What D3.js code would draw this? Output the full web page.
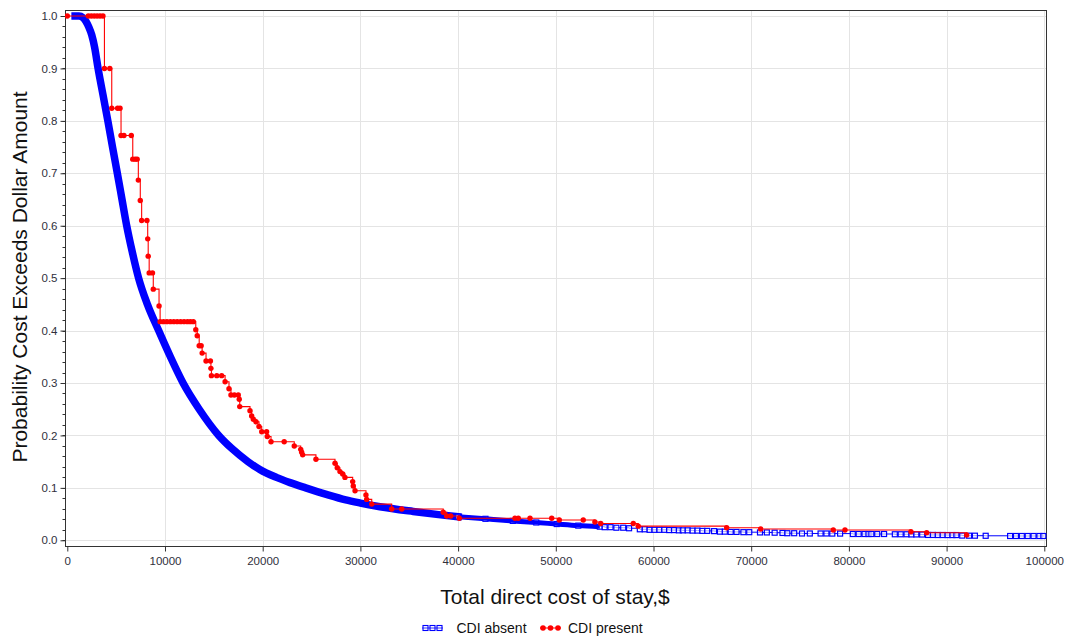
<!DOCTYPE html>
<html>
<head>
<meta charset="utf-8">
<script src="https://cdn.jsdelivr.net/npm/d3@7"></script>
<style>
  html, body { margin: 0; padding: 0; background: #fff; }
  svg { display: block; font-family: "Liberation Sans", Arial, sans-serif; }
</style>
</head>
<body>
<svg id="chart" width="1067" height="640"></svg>
<script>
// ---- Survival of total direct cost: CDI absent vs CDI present ----

// CDI absent: (cost, probability) along the dense curve
const absentCost = [800, 1200, 1600, 1900, 2200, 2500, 2800, 3150, 3650, 4150, 4630, 5120, 5600, 6080,
  6650, 7300, 8200, 9350, 10550, 11850, 13500, 15500, 16850, 18500, 19700, 21400, 22800, 24400, 26600,
  28500, 30000, 32000, 35400, 38000, 40000, 42800, 45600, 48000, 50100, 52300, 54500];
const absentProb = [1.0, 1.0, 0.997, 0.99, 0.979, 0.964, 0.94, 0.9, 0.85, 0.8, 0.75, 0.7, 0.65, 0.6,
  0.55, 0.5, 0.45, 0.4, 0.35, 0.3, 0.25, 0.2, 0.175, 0.15, 0.135, 0.12, 0.11, 0.1, 0.087,
  0.077, 0.071, 0.064, 0.055, 0.049, 0.045, 0.041, 0.037, 0.034, 0.031, 0.028, 0.026];

// CDI absent: sparse observations in the upper tail
const absentTailCost = [55000, 55600, 56200, 56900, 57500, 58600, 59100, 59600, 60100, 60600, 61100,
  61600, 62100, 62600, 63000, 63500, 64000, 64500, 65000, 65500, 66200, 66800, 67300, 67900, 68500,
  69200, 69800, 70900, 71600, 72400, 73200, 73700, 74400, 75200, 76000, 77100, 77700, 78300, 79100,
  80400, 81000, 81600, 82000, 82300, 82900, 83600, 84700, 85300, 85900, 86400, 86900, 87500, 88100,
  88600, 89100, 89600, 90100, 90600, 91000, 91600, 92300, 92900, 94000, 96500, 97100, 97700, 98300,
  98900, 99500, 99900];
const absentTailProb = [0.025, 0.025, 0.024, 0.024, 0.023, 0.021, 0.021, 0.02, 0.02, 0.02, 0.02,
  0.0195, 0.0195, 0.019, 0.019, 0.019, 0.0185, 0.0185, 0.018, 0.018, 0.0175, 0.0165, 0.0165, 0.016, 0.016,
  0.0155, 0.0155, 0.015, 0.015, 0.0145, 0.014, 0.0135, 0.0135, 0.013, 0.013, 0.013, 0.013, 0.0128, 0.0128,
  0.012, 0.012, 0.012, 0.012, 0.012, 0.012, 0.012, 0.0115, 0.0115, 0.0115, 0.0112, 0.0112, 0.011, 0.0102,
  0.0102, 0.0101, 0.0101, 0.01, 0.01, 0.01, 0.009, 0.0088, 0.0088, 0.0086, 0.0082, 0.0082, 0.0082, 0.0082,
  0.0082, 0.0082, 0.0082];

// CDI present: step estimate (cost, probability)
const presentCost = [0, 2150, 2450, 2750, 3050, 3350, 3650, 3800, 4350, 4550, 5150, 5400, 5500, 5800, 6550,
  6700, 6950, 7150, 7270, 7470, 7610, 8150, 8230, 8280, 8380, 8720, 8800, 9390,
  9500, 9850, 10200, 10550, 10900, 11250, 11600, 11950, 12300, 12600, 12900,
  13150, 13300, 13500, 13700, 13800, 14200, 14650, 14700, 14750, 15300, 15800, 16150, 16550,
  16750, 17100, 17500, 17600, 17650, 18700, 18870, 19040, 19310, 19620, 19900, 20400, 20470,
  20850, 22200, 23230, 23890, 23990, 24090, 25450, 27400, 27630, 27910, 28190, 28420, 29210, 29270,
  29450, 30570, 30640, 31160, 33200, 34230, 38480, 38830, 39240, 40120, 45820, 46160, 47360, 49580,
  50360, 52810, 54000, 54600, 57930, 58440, 67490, 70970, 78400, 79600, 86350, 87960, 92050];
const presentProb = [1.0, 1.0, 1.0, 1.0, 1.0, 1.0, 1.0, 0.9, 0.9, 0.824, 0.824, 0.824, 0.772, 0.772, 0.772,
  0.727, 0.727, 0.727, 0.687, 0.648, 0.61, 0.61, 0.575, 0.542, 0.51, 0.51, 0.479, 0.447,
  0.417, 0.417, 0.417, 0.417, 0.417, 0.417, 0.417, 0.417, 0.417, 0.417, 0.417,
  0.4015, 0.39, 0.371, 0.371, 0.357, 0.342, 0.342, 0.328, 0.314, 0.314, 0.314, 0.3025, 0.289,
  0.277, 0.277, 0.277, 0.269, 0.255, 0.247, 0.237, 0.231, 0.226, 0.217, 0.207, 0.207, 0.198,
  0.188, 0.188, 0.18, 0.1735, 0.168, 0.163, 0.1545, 0.147, 0.1385, 0.131, 0.1265, 0.12, 0.112, 0.1036,
  0.0946, 0.0864, 0.078, 0.069, 0.0597, 0.0597, 0.0534, 0.0463, 0.0463, 0.042, 0.042, 0.042, 0.042, 0.042,
  0.0387, 0.0387, 0.035, 0.032, 0.032, 0.027, 0.024, 0.0216, 0.0196, 0.0196, 0.0164, 0.0145, 0.010];

const xTickValues = [0, 10000, 20000, 30000, 40000, 50000, 60000, 70000, 80000, 90000, 100000];
const yTickValues = [0, 0.1, 0.2, 0.3, 0.4, 0.5, 0.6, 0.7, 0.8, 0.9, 1.0];
const yMinorTickValues = d3.range(0, 1.0001, 0.02);

const seriesNames = ["CDI absent", "CDI present"];
const xTitle = "Total direct cost of stay,$";
const yTitle = "Probability Cost Exceeds Dollar Amount";

// ---- layout ----
const frame = { left: 65, top: 10, right: 1047, bottom: 546 };
const blue = "#0000ff", red = "#ff0000";

const svg = d3.select("#chart");
const x = d3.scaleLinear().domain([0, 100000]).range([67.3, 1044.3]);
const y = d3.scaleLinear().domain([0, 1]).range([540.3, 16]);

svg.append("rect").attr("width", 1067).attr("height", 640).attr("fill", "#fff");

// grid
const grid = svg.append("g").attr("stroke", "#e4e4e4").attr("stroke-width", 1);
grid.selectAll("line.v").data(xTickValues.slice(1)).join("line")
  .attr("x1", d => Math.round(x(d)) + 0.5).attr("x2", d => Math.round(x(d)) + 0.5)
  .attr("y1", frame.top).attr("y2", frame.bottom);
grid.selectAll("line.h").data(yTickValues).join("line")
  .attr("y1", d => Math.round(y(d)) + 0.5).attr("y2", d => Math.round(y(d)) + 0.5)
  .attr("x1", frame.left).attr("x2", frame.right);

// frame
svg.append("rect")
  .attr("x", frame.left + 0.5).attr("y", frame.top + 0.5)
  .attr("width", frame.right - frame.left - 1).attr("height", frame.bottom - frame.top)
  .attr("fill", "none").attr("stroke", "#333").attr("stroke-width", 1);

// axes
const tickColor = "#30303c";
const xAxis = d3.axisBottom(x).tickValues(xTickValues).tickFormat(d3.format("d")).tickSize(5).tickSizeOuter(0);
const gx = svg.append("g").attr("transform", `translate(0,${frame.bottom + 0.5})`).call(xAxis);
gx.select(".domain").attr("stroke", "#333").attr("d", `M${frame.left},0H${frame.right}`);
gx.selectAll(".tick line").attr("stroke", "#333");
gx.selectAll(".tick text").attr("fill", tickColor).attr("font-size", "11.5px")
  .attr("font-family", "Liberation Sans, Arial, sans-serif").attr("dy", "1.0em").attr("y", 7);

const yAxis = d3.axisLeft(y).tickValues(yTickValues).tickFormat(d3.format(".1f")).tickSize(5).tickSizeOuter(0);
const gy = svg.append("g").attr("transform", `translate(${frame.left + 0.5},0)`).call(yAxis);
gy.select(".domain").attr("stroke", "#333").attr("d", `M0,${frame.top}V${frame.bottom}`);
gy.selectAll(".tick line").attr("stroke", "#333");
gy.selectAll(".tick text").attr("fill", tickColor).attr("font-size", "11.5px")
  .attr("font-family", "Liberation Sans, Arial, sans-serif").attr("x", -8);
gy.append("g").selectAll("line").data(yMinorTickValues).join("line")
  .attr("x1", -3).attr("x2", 0)
  .attr("y1", d => Math.round(y(d)) + 0.5).attr("y2", d => Math.round(y(d)) + 0.5)
  .attr("stroke", "#333");

// titles
svg.append("text").attr("x", 555).attr("y", 604).attr("text-anchor", "middle")
  .attr("font-size", "21px").attr("fill", "#111").text(xTitle);
svg.append("text").attr("transform", "translate(27,277) rotate(-90)").attr("text-anchor", "middle")
  .attr("font-size", "21px").attr("fill", "#111").text(yTitle);

// plot area clip
svg.append("clipPath").attr("id", "plotclip").append("rect")
  .attr("x", frame.left).attr("y", frame.top).attr("width", frame.right - frame.left).attr("height", frame.bottom - frame.top);
const plot = svg.append("g").attr("clip-path", "url(#plotclip)");

// ---- CDI absent ----
const absentDense = absentCost.map((c, i) => [c, absentProb[i]]);
const absentTail = absentTailCost.map((c, i) => [c, absentTailProb[i]]);
const absentAll = absentDense.concat(absentTail);
const absentSparse = absentAll.filter(d => d[0] >= 40000);

const stepLine = d3.line().x(d => x(d[0])).y(d => y(d[1])).curve(d3.curveStepAfter);
const smoothLine = d3.line().x(d => x(d[0])).y(d => y(d[1])).curve(d3.curveMonotoneX);

// thin step line where the observations thin out
plot.append("path").attr("d", stepLine(absentSparse.concat([[100000, absentSparse[absentSparse.length - 1][1]]])))
  .attr("fill", "none").attr("stroke", blue).attr("stroke-width", 1);

// dense band of overlapping markers
plot.append("path").attr("d", smoothLine(absentDense.filter(d => d[0] <= 40000)))
  .attr("fill", "none").attr("stroke", blue).attr("stroke-width", 7.5)
  .attr("stroke-linejoin", "round").attr("stroke-linecap", "square");
plot.append("path").attr("d", smoothLine(absentDense.filter(d => d[0] >= 40000)))
  .attr("fill", "none").attr("stroke", blue).attr("stroke-width", 5)
  .attr("stroke-linejoin", "round").attr("stroke-linecap", "butt");

// hollow square markers in the sparse part
plot.append("g").selectAll("rect").data(absentSparse).join("rect")
  .attr("x", d => x(d[0]) - 2.5).attr("y", d => y(d[1]) - 2.5)
  .attr("width", 5).attr("height", 5)
  .attr("fill", "#fff").attr("fill-opacity", 0.6)
  .attr("stroke", blue).attr("stroke-width", 1.2);
plot.append("path").attr("d", smoothLine(absentDense.filter(d => d[0] >= 40000)))
  .attr("fill", "none").attr("stroke", blue).attr("stroke-width", 3.5);

// ---- CDI present ----
const present = presentCost.map((c, i) => [c, presentProb[i]]);
plot.append("path").attr("d", stepLine(present))
  .attr("fill", "none").attr("stroke", red).attr("stroke-width", 1.1);
plot.append("g").selectAll("circle").data(present).join("circle")
  .attr("cx", d => x(d[0])).attr("cy", d => y(d[1])).attr("r", 2.7)
  .attr("fill", red);

// ---- legend ----
const legend = svg.append("g").attr("font-size", "14px").attr("fill", "#111");
const lgY = 628;
[425.5, 432.5, 439.5].forEach(cx => {
  legend.append("rect").attr("x", cx - 2.5).attr("y", lgY - 2.5).attr("width", 5).attr("height", 5)
    .attr("fill", "#fff").attr("stroke", blue).attr("stroke-width", 1.1);
});
legend.append("line").attr("x1", 422).attr("x2", 443).attr("y1", lgY).attr("y2", lgY)
  .attr("stroke", blue).attr("stroke-width", 0.8);
legend.append("text").attr("x", 456.5).attr("y", lgY + 5).text(seriesNames[0]);
[543, 550.5, 558].forEach(cx => {
  legend.append("circle").attr("cx", cx).attr("cy", lgY).attr("r", 2.8).attr("fill", red);
});
legend.append("line").attr("x1", 540).attr("x2", 561).attr("y1", lgY).attr("y2", lgY)
  .attr("stroke", red).attr("stroke-width", 1);
legend.append("text").attr("x", 568).attr("y", lgY + 5).text(seriesNames[1]);
</script>
</body>
</html>
